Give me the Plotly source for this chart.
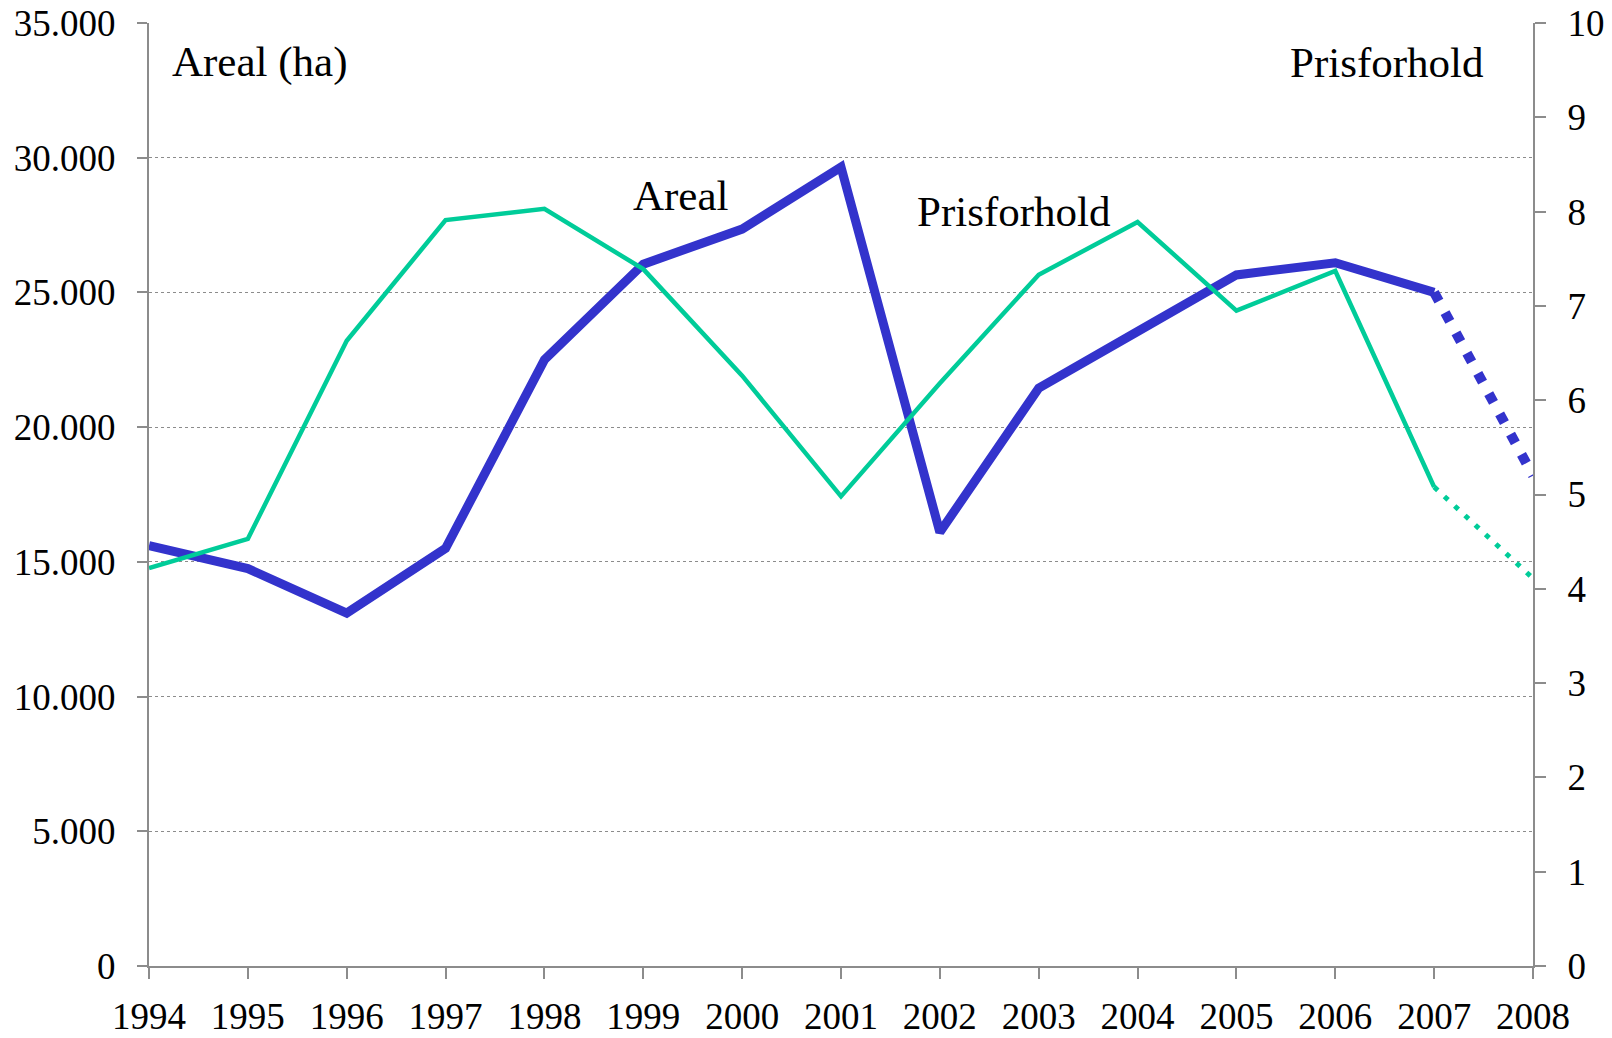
import plotly.graph_objects as go

years = [1994, 1995, 1996, 1997, 1998, 1999, 2000, 2001, 2002, 2003, 2004, 2005, 2006, 2007, 2008]
areal = [15600, 14750, 13100, 15500, 22500, 26050, 27350, 29650, 16100, 21450, 23550, 25650, 26100, 25000, 18200]
prisforhold = [4.22, 4.53, 6.63, 7.91, 8.03, 7.39, 6.26, 4.98, 6.18, 7.33, 7.89, 6.95, 7.37, 5.08, 4.11]

BLUE = "#3333CC"
GREEN = "#00CC99"
FONT = "Liberation Serif"
AX = "#8c8c8c"

fig = go.Figure()
fig.add_trace(go.Scatter(x=years[:14], y=prisforhold[:14], yaxis="y2", mode="lines",
                         line=dict(color=GREEN, width=4.5), showlegend=False))
fig.add_trace(go.Scatter(x=years[13:], y=prisforhold[13:], yaxis="y2", mode="lines",
                         line=dict(color=GREEN, width=5, dash="5px,9px"), showlegend=False))
fig.add_trace(go.Scatter(x=years[:14], y=areal[:14], mode="lines",
                         line=dict(color=BLUE, width=9), showlegend=False))
fig.add_trace(go.Scatter(x=years[13:], y=areal[13:], mode="lines",
                         line=dict(color=BLUE, width=10, dash="10px,13px"), showlegend=False))

fig.update_layout(
    width=1612, height=1038,
    margin=dict(l=149, r=79, t=23, b=72, autoexpand=False),
    paper_bgcolor="white", plot_bgcolor="white",
    separators=",.",
    font=dict(family=FONT, size=37, color="black"),
    xaxis=dict(range=[1994, 2008], tickvals=years, ticks="outside", ticklen=11,
               tickcolor=AX, tickwidth=2, showline=True, linecolor=AX, linewidth=2,
               showgrid=False, zeroline=False, ticklabelstandoff=6, automargin=False,
               tickfont=dict(family=FONT, size=37)),
    yaxis=dict(range=[0, 35000], dtick=5000, tickformat=",d", ticks="outside", ticklen=10,
               tickcolor=AX, tickwidth=2, showline=True, linecolor=AX, linewidth=2,
               showgrid=True, gridcolor="#8c8c8c", griddash="dot", gridwidth=1,
               zeroline=False, ticklabelstandoff=14, automargin=False,
               tickfont=dict(family=FONT, size=37)),
    yaxis2=dict(range=[0, 10], dtick=1, overlaying="y", side="right", ticks="outside",
                ticklen=11, tickcolor=AX, tickwidth=2, showline=True, linecolor=AX,
                linewidth=2, showgrid=False, zeroline=False, ticklabelstandoff=14,
                automargin=False, tickfont=dict(family=FONT, size=37)),
    annotations=[
        dict(x=1994.21, y=33540, xref="x", yref="y", text="Areal (ha)", showarrow=False,
             xanchor="left", yanchor="middle", font=dict(family=FONT, size=43)),
        dict(x=2007.52, y=33540, xref="x", yref="y", text="Prisforhold", showarrow=False,
             xanchor="right", yanchor="middle", font=dict(family=FONT, size=43)),
        dict(x=1999.38, y=28600, xref="x", yref="y", text="Areal", showarrow=False,
             xanchor="center", yanchor="middle", font=dict(family=FONT, size=43)),
        dict(x=2002.75, y=28020, xref="x", yref="y", text="Prisforhold", showarrow=False,
             xanchor="center", yanchor="middle", font=dict(family=FONT, size=43)),
    ],
)

fig.write_html("out.html", config={"displayModeBar": False},
               post_script="document.body.style.margin='0px';document.body.style.overflow='hidden';")
